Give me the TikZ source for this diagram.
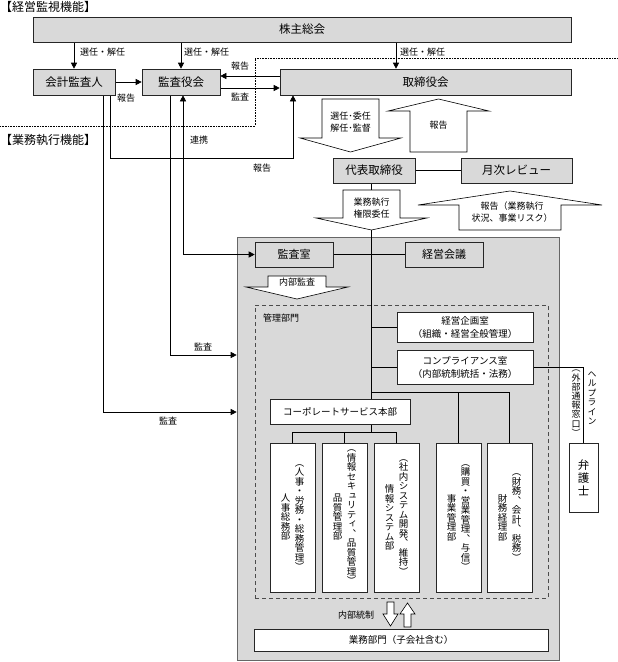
\documentclass[tikz,border=0pt]{standalone}
\usepackage{fontspec}
\setmainfont{Noto Sans CJK JP}
\newfontfamily\vjp[RawFeature=+vert]{Noto Sans CJK JP}
\usetikzlibrary{arrows.meta}
\definecolor{boxgray}{RGB}{217,217,217}
\pgfdeclarelayer{bg}
\pgfdeclarelayer{ln}
\pgfsetlayers{bg,ln,main}
\makeatletter
\newcommand\tatecol[2]{\vbox{\vjp\baselineskip=#1\lineskiplimit=-\maxdimen\lineskip=0pt
  \@tfor\tate@c:=#2\do{\hbox to 1em{\hss\tate@c\hss}}}}
\makeatother
\begin{document}
\begin{tikzpicture}[x=1pt,y=-1pt,
  box/.style={draw=black!85, line width=0.6pt, inner sep=0pt, anchor=center, font=\fontsize{11.5}{13}\selectfont},
  gbox/.style={box, fill=boxgray},
  wbox/.style={box, fill=white},
  lbl/.style={inner sep=0pt, font=\fontsize{9}{12.5}\selectfont},
  vlbl/.style={inner sep=0pt, font=\fontsize{9.5}{9.5}\selectfont},
  conn/.style={line width=0.6pt},
  arr/.style={conn, -{Triangle[length=6pt,width=6pt]}},
  blk/.style={draw, line width=0.6pt, fill=white, line join=miter},
]
\useasboundingbox (0,0) rectangle (618,662);

% backgrounds
\begin{pgfonlayer}{bg}
\node[draw=black!60, line width=0.6pt, fill=boxgray, minimum width=322pt, minimum height=423pt, inner sep=0pt] (area) at (398,448.5) {};
\node[draw=black!70, line width=0.6pt, dash pattern=on 4pt off 3pt, minimum width=293pt, minimum height=293pt, inner sep=0pt] (mgmt) at (401.5,451.5) {};
\end{pgfonlayer}

% headers
\node[anchor=west, inner sep=0pt, font=\fontsize{12}{13}\selectfont] (hd1) at (0,7) {【経営監視機能】};
\node[anchor=west, inner sep=0pt, font=\fontsize{12}{13}\selectfont] (hd2) at (0,140) {【業務執行機能】};

% boxes
\node[gbox, minimum width=538pt, minimum height=25pt] (kabu) at (302,29.5) {株主総会};
\node[gbox, minimum width=82pt, minimum height=26pt] (kaikei) at (74,82) {会計監査人};
\node[gbox, minimum width=78pt, minimum height=26pt] (kansayaku) at (181,82) {監査役会};
\node[gbox, minimum width=291pt, minimum height=26pt] (tori) at (425.5,82) {取締役会};
\node[gbox, minimum width=82pt, minimum height=25pt] (daihyo) at (374,170.5) {代表取締役};
\node[gbox, minimum width=111pt, minimum height=25pt] (getsuji) at (516.5,170.5) {月次レビュー};
\node[gbox, minimum width=78pt, minimum height=25pt, font=\fontsize{11}{13}\selectfont] (kansashitsu) at (294,254.5) {監査室};
\node[gbox, minimum width=78pt, minimum height=25pt, font=\fontsize{11}{13}\selectfont] (keiei) at (444,254.5) {経営会議};
\node[wbox, minimum width=136pt, minimum height=30pt, align=center, font=\fontsize{9.5}{13}\selectfont] (kikaku) at (465,327) {経営企画室\\（組織・経営全般管理）};
\node[wbox, minimum width=136pt, minimum height=34pt, align=center, font=\fontsize{9.5}{13}\selectfont] (comp) at (465,367) {コンプライアンス室\\（内部統制統括・法務）};
\node[wbox, minimum width=140pt, minimum height=25pt, font=\fontsize{9.5}{12}\selectfont] (corp) at (340,411.5) {コーポレートサービス本部};
\node[wbox, minimum width=45pt, minimum height=149pt] (b1) at (292.5,517.5) {};
\node[wbox, minimum width=45pt, minimum height=149pt] (b2) at (344.5,517.5) {};
\node[wbox, minimum width=45pt, minimum height=149pt] (b3) at (396.5,517.5) {};
\node[wbox, minimum width=45pt, minimum height=149pt] (b4) at (458.5,517.5) {};
\node[wbox, minimum width=45pt, minimum height=149pt] (b5) at (509.5,517.5) {};
\node[wbox, minimum width=29pt, minimum height=69pt] (bengo) at (583.5,477.5) {};
\node[wbox, minimum width=294pt, minimum height=22pt, font=\fontsize{9.5}{12}\selectfont] (gyomu) at (401,640) {業務部門（子会社含む）};

% vertical texts
\node[vlbl] (b1r) at (299.5,517.5) {\tatecol{9.5pt}{（人事・労務・総務管理）}};
\node[vlbl] (b1l) at (285.5,517.5) {\tatecol{9.5pt}{人事総務部}};
\node[vlbl] (b2r) at (351.5,517.5) {\tatecol{9.5pt}{（情報セキュリティ、品質管理）}};
\node[vlbl] (b2l) at (337.5,517.5) {\tatecol{9.5pt}{品質管理部}};
\node[vlbl] (b3r) at (403.5,517.5) {\tatecol{9.5pt}{（社内システム開発、維持）}};
\node[vlbl] (b3l) at (389.5,517.5) {\tatecol{9.5pt}{情報システム部}};
\node[vlbl] (b4r) at (465.5,517.5) {\tatecol{9.5pt}{（購買・営業管理、与信）}};
\node[vlbl] (b4l) at (451.5,517.5) {\tatecol{9.5pt}{事業管理部}};
\node[vlbl] (b5r) at (516.5,517.5) {\tatecol{9.5pt}{（財務、会計、税務）}};
\node[vlbl] (b5l) at (502.5,517.5) {\tatecol{9.5pt}{財務経理部}};
\node[vlbl, anchor=north, font=\fontsize{9}{9.5}\selectfont] (help) at (592,371) {\tatecol{9.5pt}{ヘルプライン}};
\node[vlbl, anchor=north, font=\fontsize{9}{9.5}\selectfont] (gaibu) at (576,370) {\tatecol{9.2pt}{（外部通報窓口）}};
\node[vlbl, font=\fontsize{11.5}{13}\selectfont] (bengot) at (583.5,477.5) {\tatecol{13pt}{弁護士}};

% labels
\node[lbl, anchor=west] (l1) at (80,52) {選任・解任};
\node[lbl, anchor=west] (l2) at (184,52) {選任・解任};
\node[lbl, anchor=west] (l3) at (400,52) {選任・解任};
\node[lbl] (l4) at (126,98) {報告};
\node[lbl] (l5) at (240,66) {報告};
\node[lbl] (l6) at (240,97) {監査};
\node[lbl] (l7) at (199,140) {連携};
\node[lbl] (l8) at (262,168) {報告};
\node[lbl] (l9) at (203,347) {監査};
\node[lbl] (l10) at (168,421) {監査};
\node[lbl] (l11) at (281,318) {管理部門};
\node[lbl] (l12) at (356,615) {内部統制};

% coordinates
\coordinate (c396) at (396,0);
\coordinate (rep) at (293,158);
\coordinate (k103) at (103,412);
\coordinate (k170) at (170,355);
\coordinate (c183) at (183,0);
\coordinate (tr) at (371,432);
\coordinate (h392) at (371,392);

\begin{pgfonlayer}{ln}
\draw[densely dotted, line width=0.6pt] (0,126) -- (255,126) -- (255,58) -- (618,58);
\draw[arr] (kaikei.north |- kabu.south) -- (kaikei.north);
\draw[arr] (kansayaku.north |- kabu.south) -- (kansayaku.north);
\draw[arr] (c396 |- kabu.south) -- (c396 |- tori.north);
\draw[arr] (kaikei) -- (kansayaku);
\draw[arr] ([yshift=6pt]tori.west) -- ([yshift=6pt]kansayaku.east);
\draw[arr] ([yshift=-6pt]kansayaku.east) -- ([yshift=-6pt]tori.west);
\draw[arr] ([xshift=36pt]kaikei.south) |- (rep) -- (rep |- tori.south);
\draw[arr] (k103 |- kaikei.south) -- (k103) -- (k103 -| area.west);
\draw[arr] (k170 |- kansayaku.south) -- (k170) -- (k170 -| area.west);
\draw[conn, {Triangle[length=6pt,width=6pt]}-{Triangle[length=6pt,width=6pt]}] (c183 |- kansayaku.south) |- (kansashitsu.west);
\draw[conn] (daihyo) -- (getsuji);
\draw[conn] (tr |- daihyo.south) -- (tr);
\draw[conn] (kansashitsu) -- (keiei);
\draw[conn] (tr |- kikaku.west) -- (kikaku.west);
\draw[conn] (tr |- comp.west) -- (comp.west);
\draw[conn] (comp.east) -| (bengo.north);
\draw[conn] (h392) -| (b5.north);
\draw[conn] (h392 -| b4.north) -- (b4.north);
\draw[conn] (b1.north) -- (b1.north |- tr) -- (b3.north |- tr) -- (b3.north);
\draw[conn] (b2.north |- tr) -- (b2.north);
\end{pgfonlayer}

% block arrows
\draw[blk] (322,99) -- (379,99) -- (379,138) -- (401,138) -- (350.5,152) -- (300,138) -- (322,138) -- cycle;
\draw[blk] (410,152) -- (467,152) -- (467,111) -- (489,111) -- (438.5,99) -- (388,111) -- (410,111) -- cycle;
\draw[blk] (343,190) -- (400,190) -- (400,218) -- (427,218) -- (371.5,230) -- (316,218) -- (343,218) -- cycle;
\draw[blk] (459,230) -- (561,230) -- (561,205) -- (602,205) -- (510,191) -- (418,205) -- (459,205) -- cycle;
\draw[blk] (268,276) -- (326,276) -- (326,287) -- (348,287) -- (297,299) -- (246,287) -- (268,287) -- cycle;
\draw[blk] (387,602) -- (394,602) -- (394,614) -- (398,614) -- (390.5,626) -- (383,614) -- (387,614) -- cycle;
\draw[blk] (404,627) -- (411,627) -- (411,614) -- (415,614) -- (407.5,603) -- (400,614) -- (404,614) -- cycle;
\node[lbl, align=center] (t1) at (350.5,122) {選任･委任\\解任･監督};
\node[lbl] (t2) at (438.5,125) {報告};
\node[lbl, align=center] (t3) at (371.5,208) {業務執行\\権限委任};
\node[lbl, align=center] (t4) at (512,212) {報告（業務執行\\状況、事業リスク）};
\node[lbl] (t5) at (297,282) {内部監査};
\end{tikzpicture}
\end{document}
